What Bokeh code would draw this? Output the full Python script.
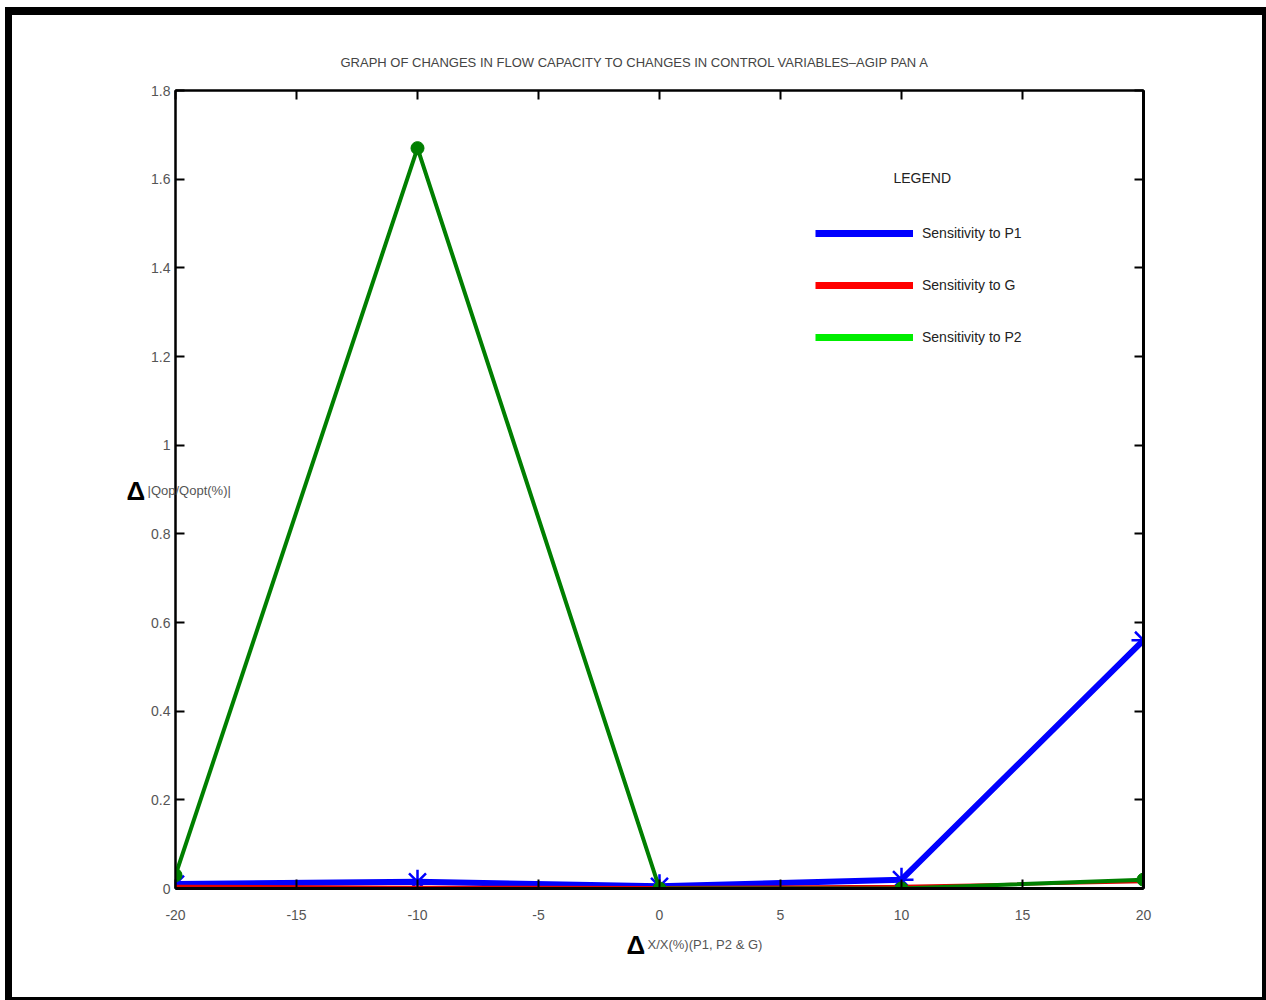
from bokeh.plotting import figure
from bokeh.models import (FixedTicker, LinearAxis, Label, Legend, LegendItem,
                          ColumnDataSource, Range1d)
from bokeh.embed import file_html
from bokeh.resources import INLINE

# ---- data ----
x_vals = [-20, -10, 0, 10, 20]
p1_vals = [0.010, 0.015, 0.005, 0.020, 0.560]
g_vals = [0.005, 0.003, 0.002, 0.005, 0.015]
p2_vals = [0.030, 1.670, 0.000, 0.000, 0.020]
x_ticks = [-20, -15, -10, -5, 0, 5, 10, 15, 20]
y_ticks = [0, 0.2, 0.4, 0.6, 0.8, 1.0, 1.2, 1.4, 1.6, 1.8]
series_names = ["Sensitivity to P1", "Sensitivity to G", "Sensitivity to P2"]
title_text = "GRAPH OF CHANGES IN FLOW CAPACITY TO CHANGES IN CONTROL VARIABLES\u2013AGIP  PAN A"

FONT = "Liberation Sans"

p = figure(width=1250, height=982, output_backend="svg", toolbar_location=None,
           x_range=Range1d(-20, 20), y_range=Range1d(0, 1.8),
           min_border_left=163, min_border_right=130, min_border_top=75,
           min_border_bottom=120, x_axis_location=None, y_axis_location=None)
p.styles = {"box-sizing": "content-box",
            "border-top": "8px solid black", "border-left": "7px solid black",
            "border-right": "4px solid black", "border-bottom": "3px solid black",
            "margin-top": "7px", "margin-left": "5px"}
p.grid.visible = False
p.outline_line_color = "black"
p.outline_line_width = 2
p.background_fill_color = "white"
p.border_fill_color = "white"

p.title.text = title_text
p.title.align = "left"
p.title.offset = 165
p.title.text_font = FONT
p.title.text_font_size = "13px"
p.title.text_font_style = "normal"
p.title.text_color = "#444444"
p.title.standoff = 41

def mk_axis(loc, ticks, labels):
    ax = LinearAxis(ticker=FixedTicker(ticks=ticks))
    ax.major_tick_in = 9
    ax.major_tick_out = 0
    ax.minor_tick_line_color = None
    ax.axis_line_color = "black"
    ax.axis_line_width = 2
    ax.major_tick_line_width = 2
    ax.major_label_text_font = FONT
    ax.major_label_text_font_size = "14px"
    ax.major_label_text_color = "#555555"
    if not labels:
        ax.major_label_text_font_size = "0px"
        ax.major_label_text_color = None
    else:
        ax.major_label_overrides = {t: f"{t:g}" for t in ticks}
    p.add_layout(ax, loc)
    return ax

bx = mk_axis("below", x_ticks, True)
bx.major_label_standoff = 21
bx.axis_line_width = 3
ly = mk_axis("left", y_ticks, True)
ly.major_label_standoff = 5
mk_axis("above", x_ticks, False)
ry = mk_axis("right", y_ticks, False)
ry.axis_line_width = 3

src = ColumnDataSource(dict(x=x_vals, p1=p1_vals, g=g_vals, p2=p2_vals))

p.line("x", "p1", source=src, line_color="#0000FF", line_width=6)
p.scatter("x", "p1", source=src, marker="asterisk", size=24, line_color="#0000FF", line_width=2.5)
p.line("x", "g", source=src, line_color="#E00000", line_width=3)
p.line("x", "p2", source=src, line_color="#007F00", line_width=4)
p.scatter("x", "p2", source=src, marker="circle", size=13, fill_color="#007F00", line_color="#007F00")

# legend (dummy renderers carry the legend styling)
nan = float("nan")
dummy = ColumnDataSource(dict(x=[nan], y=[nan]))
r1 = p.line("x", "y", source=dummy, line_color="#0000FF", line_width=7)
r2 = p.line("x", "y", source=dummy, line_color="#FF0000", line_width=7)
r3 = p.line("x", "y", source=dummy, line_color="#00EE00", line_width=7)
leg = Legend(items=[LegendItem(label=series_names[0], renderers=[r1]),
                    LegendItem(label=series_names[1], renderers=[r2]),
                    LegendItem(label=series_names[2], renderers=[r3])],
             location=(640, 541), glyph_width=98, glyph_height=20, spacing=32,
             label_standoff=9, padding=0, margin=0, border_line_color=None,
             background_fill_alpha=0, label_text_font=FONT,
             label_text_font_size="14px", label_text_color="#222222")
p.add_layout(leg, "center")

p.add_layout(Label(x=893 - 175, y=888 - 177, x_units="screen", y_units="screen",
                   text="LEGEND", text_font=FONT, text_font_size="14px",
                   text_color="#222222", text_baseline="middle"))

# y axis label (side panel labels are not clipped to the frame)
p.add_layout(Label(x=-3, y=888 - 490, x_units="screen", y_units="screen",
                   text="\u0394", text_font=FONT, text_font_style="bold",
                   text_font_size="26px", text_color="black", text_baseline="middle"), "left")
p.add_layout(Label(x=101, y=888 - 490, x_units="screen", y_units="screen",
                   text="|Qop/Qopt(%)|", text_font=FONT, text_font_size="13px",
                   text_color="#555555", text_baseline="middle"), "left")

# x axis label
p.add_layout(Label(x=626 - 175, y=8, x_units="screen", y_units="screen",
                   text="\u0394", text_font=FONT, text_font_style="bold",
                   text_font_size="26px", text_color="black", text_baseline="middle"), "below")
p.add_layout(Label(x=647 - 175, y=23, x_units="screen", y_units="screen",
                   text="X/X(%)(P1, P2 & G)", text_font=FONT, text_font_size="13px",
                   text_color="#555555", text_baseline="middle"), "below")

open("out.html", "w").write(file_html(p, INLINE))
